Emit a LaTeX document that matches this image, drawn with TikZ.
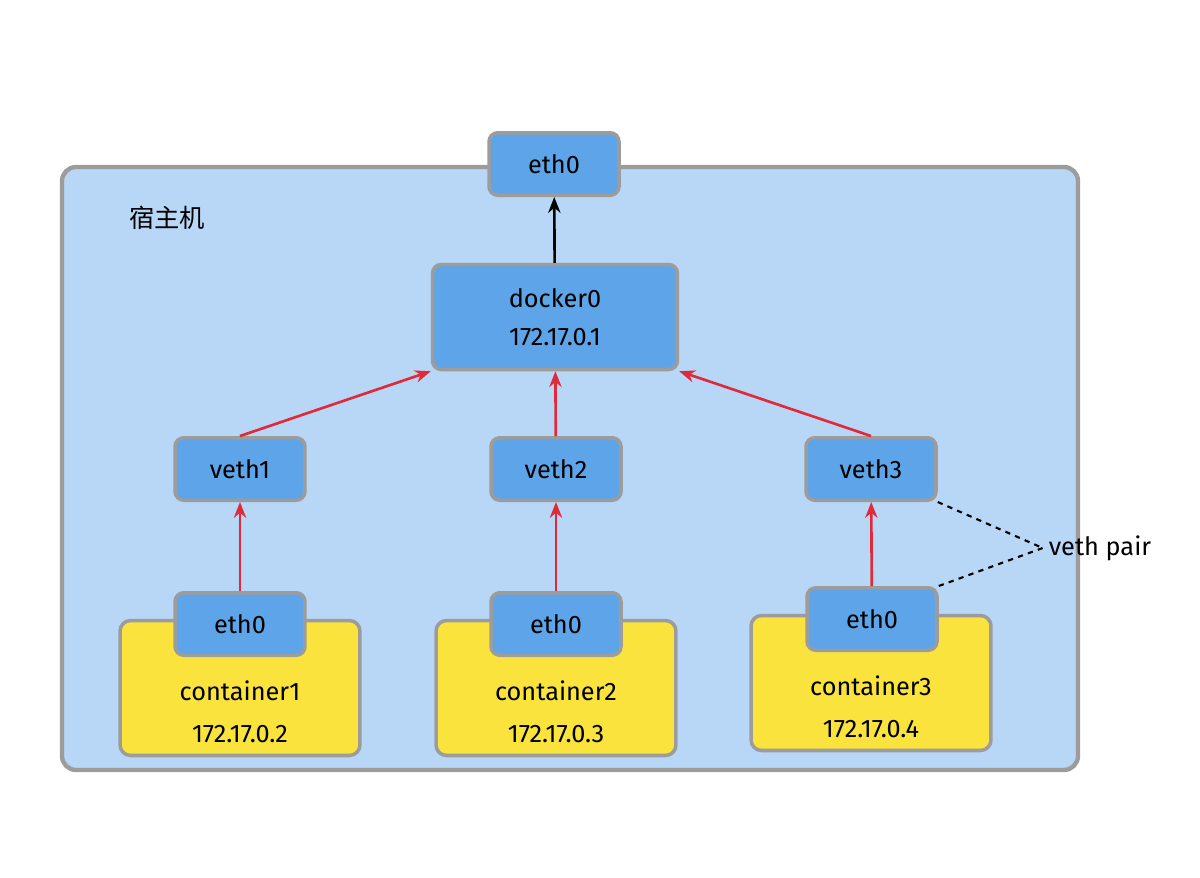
\documentclass[tikz,border=0pt]{standalone}
\usepackage{fontspec}
\setmainfont{Fira Sans}
\newfontfamily\cjk{Noto Sans CJK SC}
\usetikzlibrary{positioning,arrows.meta}
\definecolor{hostblue}{HTML}{B8D6F6}
\definecolor{nicblue}{HTML}{5DA5E8}
\definecolor{boxgray}{HTML}{9C9C9C}
\definecolor{ctyellow}{HTML}{F9E33C}
\definecolor{linkred}{HTML}{E02A3A}
\tikzset{
  nic/.style={draw=boxgray, line width=2pt, fill=nicblue, rounded corners=5pt,
    minimum width=2.6cm, minimum height=1.25cm, font=\Large},
  ctr/.style={draw=boxgray, line width=2pt, fill=ctyellow, rounded corners=6pt,
    minimum width=4.8cm, minimum height=2.7cm},
  link/.style={-{Stealth[length=9pt,width=7pt]}, line width=1.5pt, color=linkred}
}
\begin{document}
\begin{tikzpicture}[x=0.02cm, y=-0.02cm]
    \useasboundingbox (0,0) rectangle (1200,877);
    % host
    \draw[draw=boxgray, line width=2.5pt, fill=hostblue, rounded corners=8pt] (62,167) rectangle (1078,770);
    \node[font=\cjk\Large] (host) at (167,218) {宿主机};

    % bridge and uplink
    \node[nic] (eth) at (554,164) {eth0};
    \node[nic, minimum width=4.9cm, minimum height=2.1cm, align=center] (docker) at (555,317) {docker0\\[4pt]172.17.0.1};

    % containers
    \node[ctr] (c1) at (240,688) {};
    \node[ctr] (c2) at (556,688) {};
    \node[ctr] (c3) at (871,683) {};
    \node[font=\Large, align=center] (t1) at (240,712) {container1\\[6pt]172.17.0.2};
    \node[font=\Large, align=center] (t2) at (556,712) {container2\\[6pt]172.17.0.3};
    \node[font=\Large, align=center] (t3) at (871,707) {container3\\[6pt]172.17.0.4};

    % interfaces
    \node[nic] (veth1) at (240,469) {veth1};
    \node[nic] (veth2) at (556,469) {veth2};
    \node[nic] (veth3) at (871,469) {veth3};
    \node[nic] (ce1) at (240,624) {eth0};
    \node[nic] (ce2) at (556,624) {eth0};
    \node[nic] (ce3) at (872,619) {eth0};

    % links
    \draw[link] (ce1) -- (veth1);
    \draw[link] (ce2) -- (veth2);
    \draw[link] (ce3) -- (veth3);
    \draw[link] (veth1.north) -- (docker.south west);
    \draw[link] (veth2) -- (docker);
    \draw[link] (veth3.north) -- (docker.south east);
    \draw[-{Stealth[length=9pt,width=7pt]}, line width=1.5pt] (docker) -- (eth);

    % veth pair
    \node[font=\Large] (pair) at (1100,548) {veth pair};
    \draw[dashed, line width=1.2pt] (veth3.south east) -- (pair.west);
    \draw[dashed, line width=1.2pt] (ce3.north east) -- (pair.west);
\end{tikzpicture}
\end{document}
